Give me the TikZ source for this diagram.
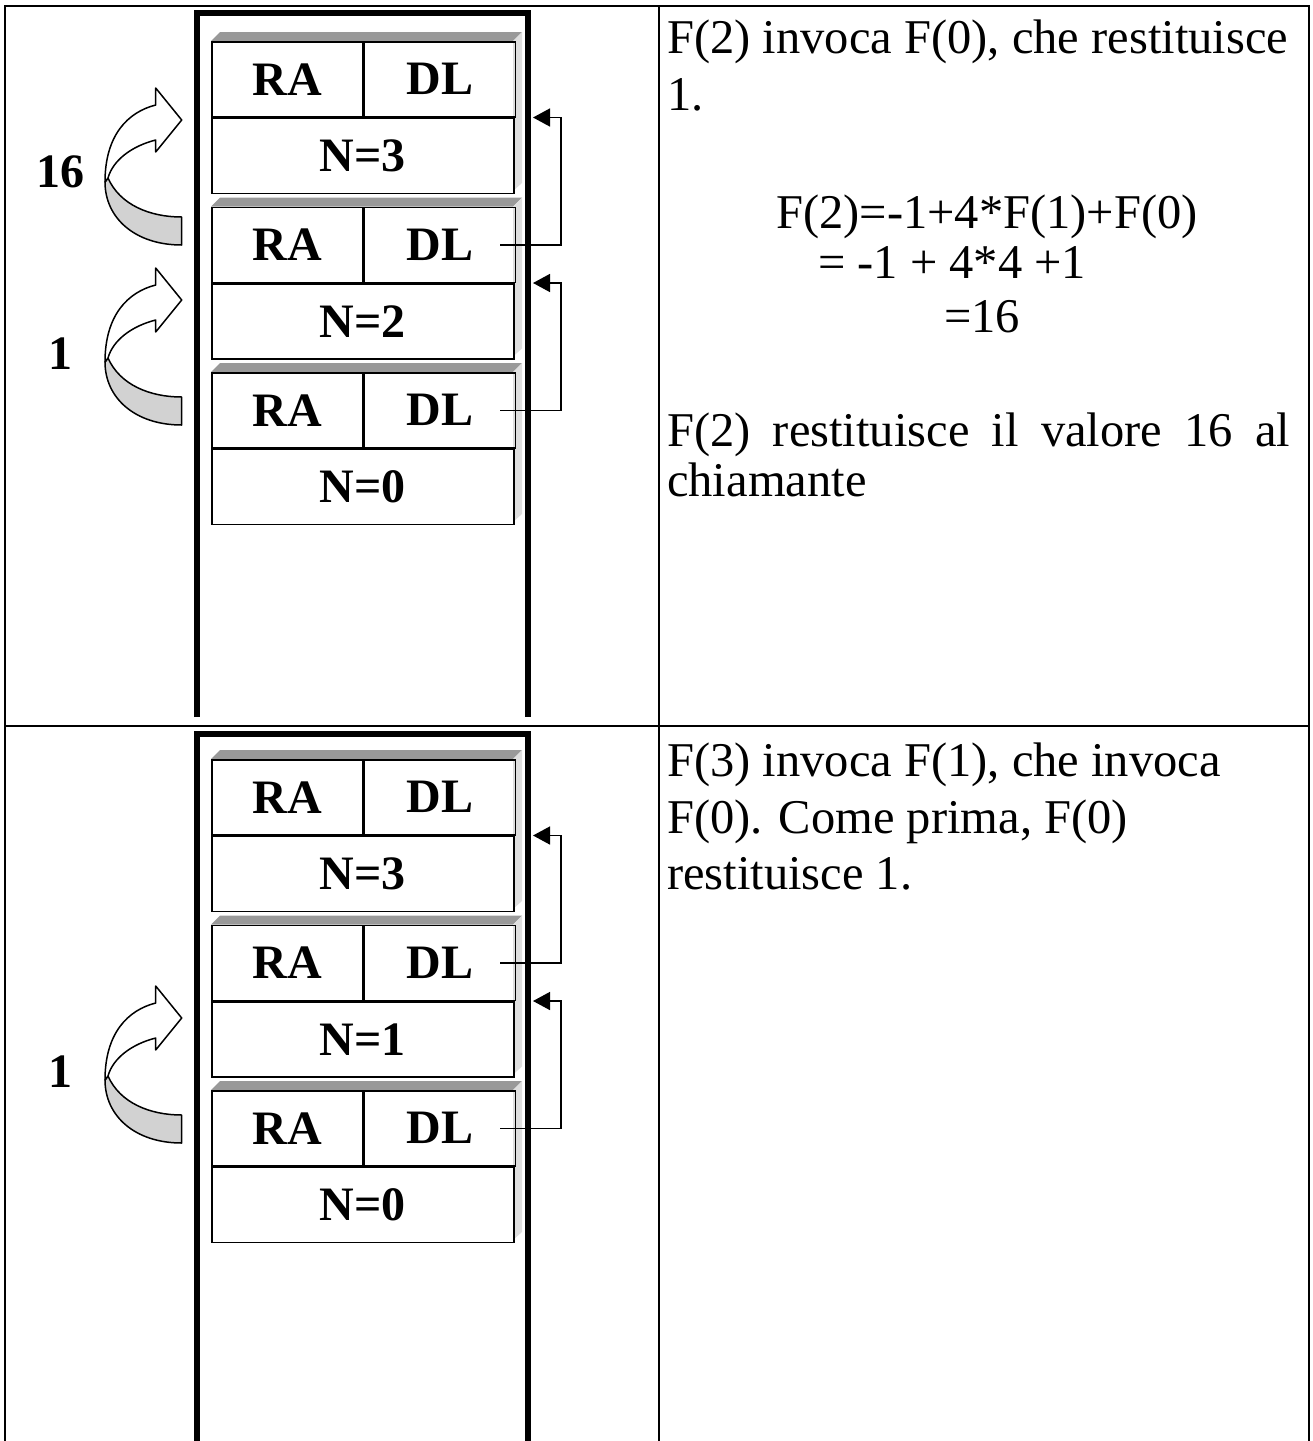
\documentclass[tikz,border=0pt]{standalone}
\usepackage{fontspec}
\setmainfont{Liberation Serif}
\usepackage{tikz}
\usetikzlibrary{arrows.meta, positioning, calc}
\usepackage{xcolor}
\definecolor{topshade}{RGB}{153,153,153}
\definecolor{sideshade}{RGB}{222,222,222}
\definecolor{tailgray}{RGB}{210,210,210}

% one record of the stack: #1 name, #2 top edge, #3 value of N
\newcommand{\stackrec}[3]{%
  \fill[topshade] (211,#2) -- ++(9,-9) -- ++(302,0) -- ++(-9,9) -- cycle;
  \fill[sideshade] (513,#2) -- ++(9,-9) -- ++(0,151) -- ++(-9,8) -- cycle;
  \node[cell, anchor=north west] (ra#1) at (211,#2) {RA};
  \node[cell, anchor=north west] (dl#1) at (ra#1.north east) {DL};
  \node[cell, anchor=north west, minimum width=302pt] (n#1) at (ra#1.south west) {N=#3};
}
% bent return arrow: #1 vertical offset
\newcommand{\retarrow}[1]{%
  \begin{scope}[shift={(0,#1)}]
    \filldraw[bent, fill=tailgray] (108,178) .. controls (120,205) and (150,217) .. (181.7,217)
      -- (181.7,245) .. controls (135,245) and (105,218) .. (105,182) -- cycle;
    \filldraw[bent, fill=white] (105,182) .. controls (105,135) and (128,112) .. (155.7,105)
      -- (155.7,88) -- (181.7,120) -- (155.7,152) -- (155.7,140)
      .. controls (132,146) and (113,160) .. (108,178) -- cycle;
  \end{scope}
}

\begin{document}
\begin{tikzpicture}[x=1pt, y=-1pt,
    cell/.style={draw, line width=1.5pt, inner sep=0pt, minimum width=151pt, minimum height=75pt,
      font=\bfseries\fontsize{48}{56}\selectfont},
    lbl/.style={font=\bfseries\fontsize{48}{56}\selectfont, inner sep=0pt},
    txt/.style={font=\fontsize{48.5}{56}\selectfont, inner sep=0pt, anchor=base west},
    frame/.style={line width=6pt},
    grid/.style={line width=2.5pt},
    link/.style={line width=1.5pt, -{Triangle[length=17pt, width=18pt]}},
    bent/.style={line width=1.5pt, line join=round}]
  \useasboundingbox (0,0) rectangle (1313,1441);

  % table
  \draw[grid] (5,1441) -- (5,6) -- (1309,6) -- (1309,1441);
  \draw[grid] (659,6) -- (659,1441);
  \draw[grid] (5,726) -- (1309,726);

  % upper panel
  \draw[frame] (197,717) -- (197,13) -- (528,13) -- (528,717);
  \stackrec{a}{41}{3}
  \stackrec{b}{206.5}{2}
  \stackrec{c}{372}{0}
  \draw[link] ([xshift=-16pt]dlb.east) -- ++(61,0) |- ([xshift=18.5pt]na.north east);
  \draw[link] ([xshift=-16pt]dlc.east) -- ++(61,0) |- ([xshift=18.5pt]nb.north east);
  \retarrow{0}
  \retarrow{180}
  \node[lbl] (ret16) at (60,172) {16};
  \node[lbl] (ret1a) at (60,354) {1};

  \node[txt] (ta) at (667,53) {F(2) invoca F(0), che restituisce};
  \node[txt] (tb) at (667,110) {1.};
  \node[txt] (fa) at (776,228) {F(2)=-1+4*F(1)+F(0)};
  \node[txt] (fb) at (818,278) {= -1 + 4*4 +1};
  \node[txt] (fc) at (944,332) {=16};
  \node[txt] (tc) at (667,446) {\makebox[623pt][s]{F(2) restituisce il valore 16 al}};
  \node[txt] (td) at (667,496) {chiamante};

  % lower panel
  \draw[frame] (197,1441) -- (197,734) -- (528,734) -- (528,1441);
  \stackrec{d}{759}{3}
  \stackrec{e}{924.5}{1}
  \stackrec{f}{1090}{0}
  \draw[link] ([xshift=-16pt]dle.east) -- ++(61,0) |- ([xshift=18.5pt]nd.north east);
  \draw[link] ([xshift=-16pt]dlf.east) -- ++(61,0) |- ([xshift=18.5pt]ne.north east);
  \retarrow{898}
  \node[lbl] (ret1b) at (60,1072) {1};

  \node[txt] (ba) at (667,776) {F(3) invoca F(1), che invoca};
  \node[txt] (bb) at (667,833) {F(0). Come prima, F(0)};
  \node[txt] (bc) at (667,889) {restituisce 1.};
\end{tikzpicture}
\end{document}
